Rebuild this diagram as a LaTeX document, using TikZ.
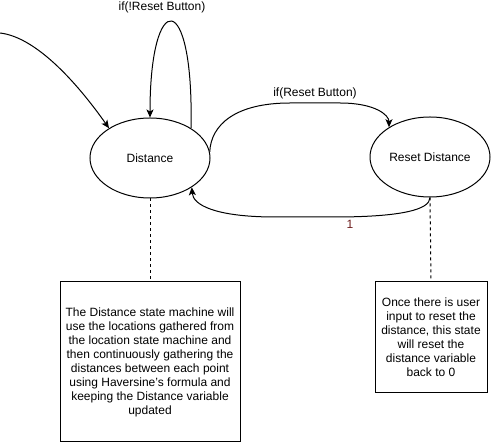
\documentclass[tikz,border=0pt]{standalone}
\usepackage{fontspec}
\setmainfont{Liberation Sans}
\usetikzlibrary{arrows.meta,shapes.geometric}
\definecolor{lblred}{RGB}{110,30,30}
\begin{document}
\begin{tikzpicture}[x=1pt,y=-1pt,
  every node/.style={font=\fontsize{12}{14}\selectfont},
  state/.style={draw,ellipse,line width=1pt,minimum width=120pt,minimum height=80pt,inner sep=0pt},
  note/.style={draw,line width=1pt,inner sep=0pt,align=center},
  edge/.style={line width=1pt,-{Stealth[length=8pt,width=7pt,inset=2pt]}},
  link/.style={line width=1pt,dash pattern=on 3pt off 3pt},
  lbl/.style={inner sep=0pt}]
\useasboundingbox (0,0) rectangle (491,443);
\node[state] (D) at (150,158) {Distance};
\node[state] (R) at (430,157) {Reset Distance};
\node[note,minimum width=180pt,minimum height=160pt] (B1) at (150,362)
  {The Distance state machine will\\use the locations gathered from\\the location state machine and\\then continuously gathering the\\distances between each point\\using Haversine's formula and\\keeping the Distance variable\\updated};
\node[note,minimum width=112pt,minimum height=111pt] (B2) at (431,337.5)
  {Once there is user\\input to reset the\\distance, this state\\will reset the\\distance variable\\back to 0};
\coordinate (start) at (0,33);
\draw[edge] (start) .. controls (35,37) and (75,80) .. (D.144);
\draw[edge] (D.36) .. controls (194,-12) and (150,-12) .. (D.90);
\node[lbl] (l1) at (162,7) {if(!Reset Button)};
\draw[edge] (D.6) .. controls (211,125) and (235,103) .. (290,103) -- (340,103) .. controls (375,103) and (389,115) .. (R.144);
\node[lbl] (l2) at (315,93) {if(Reset Button)};
\draw[edge] (R.270) .. controls (430,210) and (400,216.5) .. (340,217) -- (272,217) .. controls (215,216.5) and (193,205) .. (D.325);
\node[lbl,text=lblred] (l3) at (350,224) {1};
\draw[link] (D.south) -- (B1.north);
\draw[link] (R.south) -- (B2.north);
\end{tikzpicture}
\end{document}
